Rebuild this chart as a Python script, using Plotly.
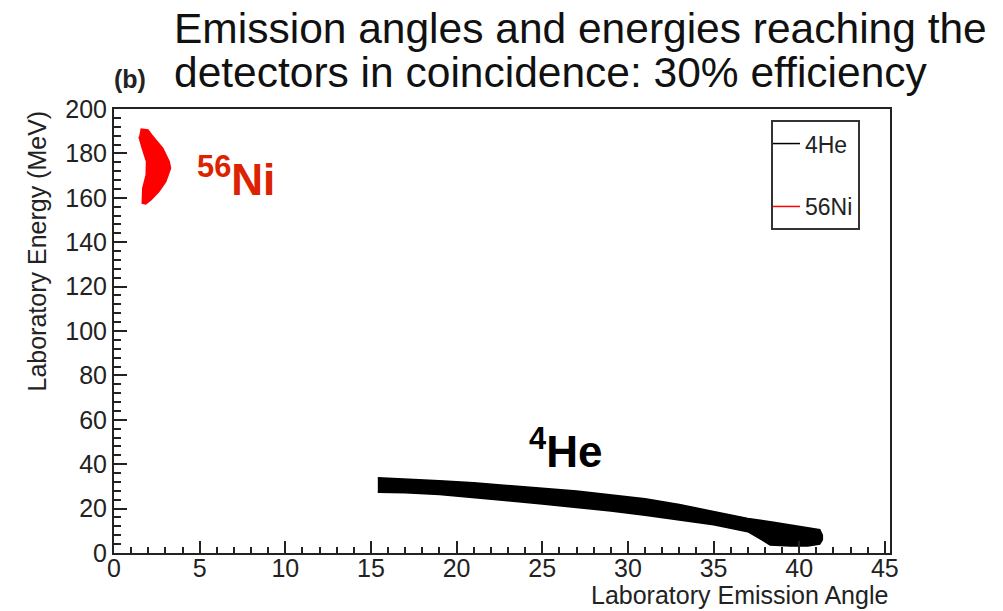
import plotly.graph_objects as go

# ---- data (outline of each scatter band) ----
he_upper_x = [15.4, 17, 19, 21, 23, 25, 27, 29, 31, 33, 35, 37, 38.5, 39.5, 40.5, 41.2, 41.35]
he_upper_y = [33.9, 33.4, 32.6, 31.6, 30.5, 29.2, 27.9, 26.3, 24.4, 21.8, 18.8, 15.6, 13.8, 12.7, 11.6, 10.5, 8.0]
he_lower_x = [15.4, 17, 19, 21, 23, 25, 27, 29, 31, 33, 35, 37, 37.8, 38.3, 39.5, 40.5, 41.2, 41.35]
he_lower_y = [27.4, 27.1, 26.3, 25.0, 23.5, 22.1, 20.6, 18.9, 17.0, 14.9, 12.7, 9.6, 6.0, 3.6, 3.2, 3.2, 4.0, 6.0]

ni_x = [1.55, 1.98, 2.2, 2.85, 3.22, 3.3, 3.02, 2.62, 2.15, 1.85, 1.65, 1.66, 1.68, 1.88, 1.9, 1.65, 1.46]
ni_y = [191.0, 190.6, 188.3, 182.3, 176.3, 173.3, 167.3, 162.8, 159.0, 157.2, 157.6, 159.8, 164.3, 170.3, 176.3, 182.3, 187.5]

series_names = ["4He", "56Ni"]
series_colors = ["#000000", "#ff0000"]

title_lines = ["Emission angles and energies reaching the",
               "detectors in coincidence: 30% efficiency"]

FONT = "Liberation Sans, Arial, Helvetica, sans-serif"

fig = go.Figure()

# 4He band polygon
he_x = he_upper_x + he_lower_x[::-1]
he_y = he_upper_y + he_lower_y[::-1]
fig.add_trace(go.Scatter(x=he_x, y=he_y, fill="toself", mode="lines",
                         fillcolor=series_colors[0],
                         line=dict(color=series_colors[0], width=1.5),
                         showlegend=False, hoverinfo="skip"))
# 56Ni band polygon
fig.add_trace(go.Scatter(x=ni_x, y=ni_y, fill="toself", mode="lines",
                         fillcolor=series_colors[1],
                         line=dict(color=series_colors[1], width=1.5),
                         showlegend=False, hoverinfo="skip"))

# legend entries (line symbols, as in the original)
for i, (nm, col) in enumerate(zip(series_names, series_colors)):
    fig.add_trace(go.Scatter(x=[None], y=[None], mode="lines", name=nm,
                             legendgroup=nm,
                             line=dict(color=col, width=1.5)))

fig.update_layout(
    width=1003, height=611, autosize=False,
    margin=dict(l=114, r=113, t=109, b=58),
    paper_bgcolor="white", plot_bgcolor="white",
    font=dict(family=FONT, color="#222", size=25),
    showlegend=True,
    legend=dict(x=0.8466, y=0.975, xanchor="left", yanchor="top",
                bgcolor="white", bordercolor="#333", borderwidth=2,
                font=dict(size=23, color="#222", family=FONT),
                tracegroupgap=30, itemwidth=30, indentation=-8),
    xaxis=dict(range=[0, 45.3], showgrid=False, zeroline=False,
               showline=True, linecolor="#222", linewidth=2, mirror=True,
               ticks="inside", ticklen=12, tickwidth=1.5, tickcolor="#222",
               tick0=0, dtick=5, tickfont=dict(size=25, color="#222"),
               ticklabelstandoff=-8,
               minor=dict(ticks="inside", ticklen=6, dtick=1, tickwidth=1.5, tickcolor="#222")),
    yaxis=dict(range=[0, 200], showgrid=False, zeroline=False,
               showline=True, linecolor="#222", linewidth=2, mirror=True,
               ticks="inside", ticklen=13, tickwidth=1.5, tickcolor="#222",
               tick0=0, dtick=20, tickfont=dict(size=25, color="#222"),
               minor=dict(ticks="inside", ticklen=7, dtick=4, tickwidth=1.5, tickcolor="#222")),
)

annotations = [
    dict(text=title_lines[0], x=0.0747, y=1.1824, xref="paper", yref="paper",
         xanchor="left", yanchor="middle", showarrow=False,
         font=dict(size=42.5, color="#111", family=FONT)),
    dict(text=title_lines[1], x=0.0747, y=1.0833, xref="paper", yref="paper",
         xanchor="left", yanchor="middle", showarrow=False,
         font=dict(size=42.5, color="#111", family=FONT)),
    dict(text="<b>(b)</b>", x=(130 - 114) / 776, y=(553 - 79) / 444, xref="paper", yref="paper",
         xanchor="center", yanchor="middle", showarrow=False,
         font=dict(size=25, color="#222", family=FONT)),
    dict(text="Laboratory Emission Angle", x=1.0, y=(553 - 595) / 444, xref="paper", yref="paper",
         xanchor="right", yanchor="middle", showarrow=False,
         font=dict(size=25, color="#222", family=FONT)),
    dict(text="Laboratory Energy (MeV)", x=(36 - 114) / 776, y=1.0, xref="paper", yref="paper",
         xanchor="center", yanchor="top", textangle=-90, showarrow=False,
         font=dict(size=25, color="#222", family=FONT)),
    dict(text="<b><sup>56</sup>Ni</b>", x=4.75, y=169.5, xref="x", yref="y",
         xanchor="left", yanchor="middle", showarrow=False,
         font=dict(size=44, color="#dd2200", family=FONT)),
    dict(text="<b><sup>4</sup>He</b>", x=24.1, y=47, xref="x", yref="y",
         xanchor="left", yanchor="middle", showarrow=False,
         font=dict(size=44, color="#000", family=FONT)),
]
fig.update_layout(annotations=annotations)

fig.write_html("out.html")
